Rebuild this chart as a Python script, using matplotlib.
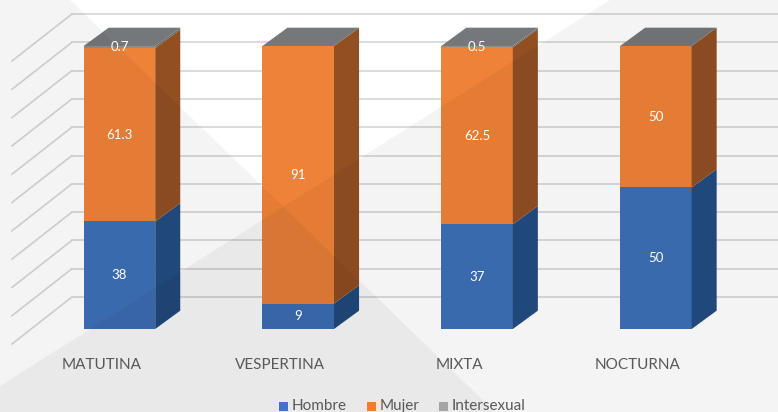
import matplotlib.pyplot as plt
import matplotlib.transforms as mtransforms
from matplotlib.patches import Polygon, Rectangle

categories = ["MATUTINA", "VESPERTINA", "MIXTA", "NOCTURNA"]
hombre = [38, 9, 37, 50]
mujer = [61.3, 91, 62.5, 50]
intersexual = [0.7, 0, 0.5, 0]
series_names = ["Hombre", "Mujer", "Intersexual"]
grid_values = list(range(0, 101, 10))

W, H = 778, 412
fig = plt.figure(figsize=(W / 100, H / 100), dpi=100)
fig.patch.set_facecolor("white")
ax = fig.add_axes([0, 0, 1, 1])
ax.set_xlim(-0.668, 3.683)
ax.set_ylim(-29.33, 116.25)
ax.axis("off")

# pixel coords (origin top-left) -> figure, used for background and legend only
pix = mtransforms.Affine2D().scale(1 / W, -1 / H).translate(0, 1) + fig.transFigure

# 3D look parameters (data units)
bar_w = 0.40
dx, dy = 0.14, 6.47          # bar depth
wall_dx, wall_dy = 0.30, 11.3  # back wall offset from bar front
side_x0 = -0.601               # front edge of left wall
side_dy = -5.3

grid_c = "#d6d6d6"
for v in grid_values:
    ax.plot([-0.2657, 3.75], [v + wall_dy, v + wall_dy], color=grid_c, lw=1.2, zorder=1)
    ax.plot([side_x0, -0.2657], [v + side_dy, v + wall_dy], color=grid_c, lw=1.2, zorder=1)

front_cols = ["#3d6fb6", "#ef8239", "#8e8e8e"]
side_cols = ["#224c80", "#914f22", "#6a6a6a"]
top_col = "#74787a"

for i, cat in enumerate(categories):
    x0 = i - bar_w / 2
    x1 = i + bar_w / 2
    bottom = 0
    for k, vals in enumerate([hombre, mujer, intersexual]):
        h = vals[i]
        if h > 0:
            ax.add_patch(Rectangle((x0, bottom), bar_w, h, facecolor=front_cols[k],
                                   edgecolor="none", zorder=3))
            ax.add_patch(Polygon([(x1, bottom), (x1 + dx, bottom + dy),
                                  (x1 + dx, bottom + h + dy), (x1, bottom + h)],
                                 closed=True, facecolor=side_cols[k], edgecolor="none", zorder=3))
            ax.text(i, bottom + h / 2, f"{h:g}", color="white", fontsize=9.5,
                    family="Lato", ha="center", va="center", zorder=20)
        bottom += h
    ax.add_patch(Polygon([(x0, bottom), (x0 + dx, bottom + dy),
                          (x1 + dx, bottom + dy), (x1, bottom)],
                         closed=True, facecolor=top_col, edgecolor="none", zorder=3))
    ax.text(i - 0.1, -12.7, cat, color="#595959", fontsize=11, family="Lato",
            ha="center", va="center", zorder=20)

# background triangles (drawn over everything, semi-transparent)
ax.add_patch(Polygon([(0, 0), (70, 0), (495, H), (0, H)], closed=True,
                     facecolor="black", alpha=0.045, edgecolor="none",
                     transform=pix, zorder=10))
ax.add_patch(Polygon([(0, 386), (610, 0), (W, 0), (W, H), (0, H)], closed=True,
                     facecolor="black", alpha=0.045, edgecolor="none",
                     transform=pix, zorder=10))

# legend
leg_cols = ["#4472c4", "#ed7d31", "#a5a5a5"]
leg_x = [279, 367, 439]
for name, c, lx in zip(series_names, leg_cols, leg_x):
    ax.add_patch(Rectangle((lx, 402), 9, 9, facecolor=c, edgecolor="none",
                           transform=pix, zorder=20))
    ax.text(lx + 13, 406, name, color="#595959", fontsize=11, family="Lato",
            ha="left", va="center", transform=pix, zorder=20)

fig.savefig("out.png", dpi=100)
